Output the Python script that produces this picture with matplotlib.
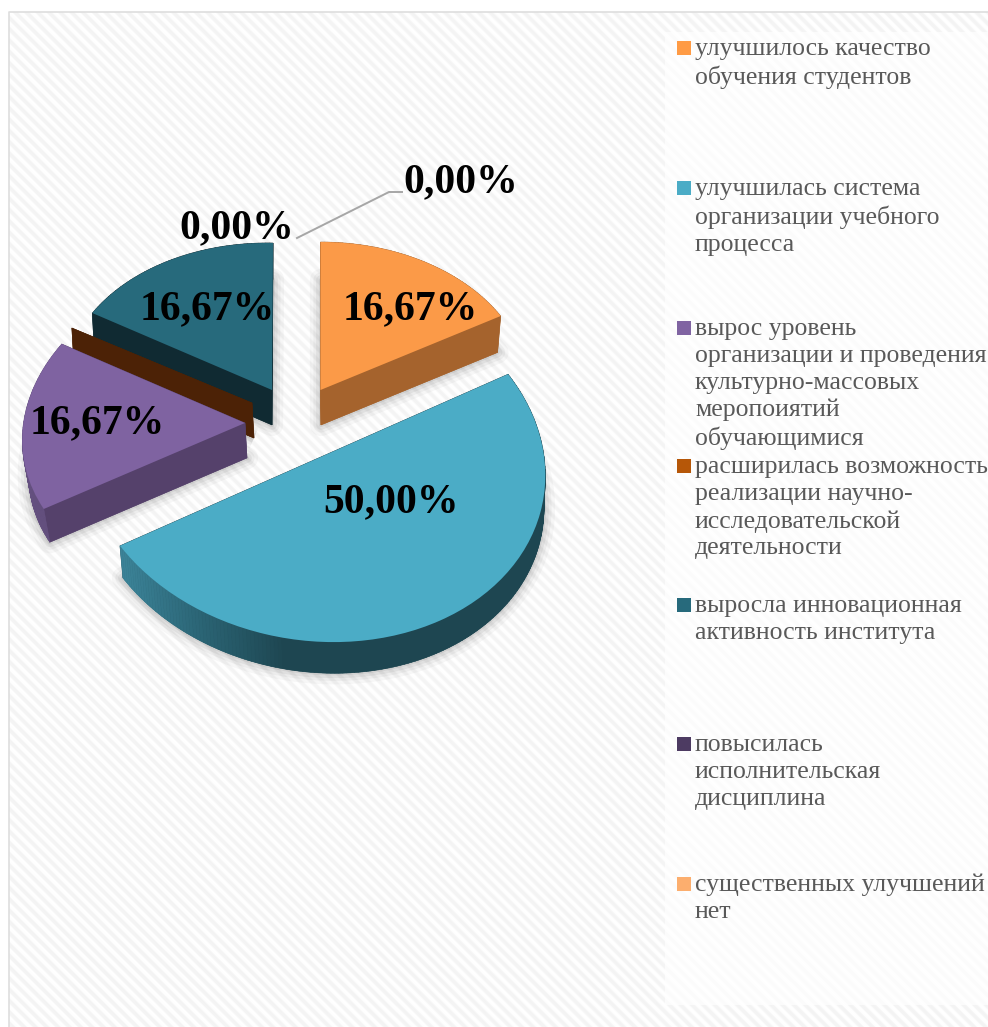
import numpy as np
import matplotlib
matplotlib.use("Agg")
import matplotlib.pyplot as plt
from matplotlib import patches as mp
from matplotlib.collections import PolyCollection
from matplotlib.colors import LinearSegmentedColormap
from matplotlib.transforms import Affine2D

# ---------- data ----------
categories = [
    "улучшилось качество\nобучения студентов",
    "улучшилась система\nорганизации учебного\nпроцесса",
    "вырос уровень\nорганизации и проведения\nкультурно-массовых\nмеропоиятий\nобучающимися",
    "расширилась возможность\nреализации научно-\nисследовательской\nдеятельности",
    "выросла инновационная\nактивность института",
    "повысилась\nисполнительская\nдисциплина",
    "существенных улучшений\nнет",
]
values = [16.67, 50.0, 16.67, 0.0, 16.67, 0.0, 0.0]

# ---------- style ----------
W, H = 988, 1027
top_colors = ["#FB9A48", "#4BACC6", "#7F63A1", "#4C2206", "#276A7C", "#4D3B62", "#F9AB6B"]
side_colors = ["#A5632D", "#1E4651", "#55416B", "#4C2206", "#102A32", "#33284A", "#A5632D"]
rim_colors = ["#A5632D", None, "#64507F", "#4C2206", "#102A32", "#33284A", "#A5632D"]
swatch_colors = ["#FF9B45", "#4BACC6", "#8064A2", "#B65708", "#276A7C", "#4D3B62", "#FCAE6E"]
# placement of each exploded slice: centre, image of east, image of north, depth, bottom scale
geometry = {
    0: dict(c=(320.5, 390), a=(208, 0), b=(0, -148), d=(0.5, 35), s=0.98),
    1: dict(c=(314, 460), a=(231, 6), b=(-12, -182), d=(1, 33), s=0.99),
    2: dict(c=(245, 423), a=(222, -4), b=(18, -165), d=(2, 35), s=0.98),
    3: dict(c=(252, 403), a=(208, 0), b=(0, -150), d=(2, 35), s=1.0),
    4: dict(c=(272, 390), a=(208, 4), b=(1, -147), d=(0, 35), s=0.99),
}
draw_order = [4, 3, 2, 0, 1]
label_pos = {0: (410, 309), 1: (391, 502), 2: (97, 423), 4: (207, 309), 3: (237, 228), 5: (461, 182)}
legend_y = [38, 178, 318, 456, 595, 734, 874]

serif = "Liberation Serif"

fig = plt.figure(figsize=(W / 100, H / 100), dpi=100, facecolor="white")
ax = fig.add_axes([0, 0, 1, 1])

# ---------- pie through the library ----------
wedges, _ = ax.pie(values, startangle=90, counterclock=False, radius=1, colors=top_colors)
ax.set_aspect("auto")
ax.set_xlim(0, W)
ax.set_ylim(H, 0)
ax.axis("off")

# ---------- backdrop ----------
yy, xx = np.mgrid[0:H, 0:W]
stripes = 0.5 + 0.5 * np.sin(2 * np.pi * (xx - yy) / 11.3)
bg = 1 - 0.045 * np.clip(stripes * 1.6 - 0.3, 0, 1)
bg[:12, :] = 1
bg[:, :9] = 1
ax.imshow(bg, cmap="gray", vmin=0, vmax=1, extent=(0, W, H, 0), zorder=0, aspect="auto",
          interpolation="bilinear")
ax.set_xlim(0, W)
ax.set_ylim(H, 0)
ax.add_patch(mp.Rectangle((665, 32), W - 665, 973, fc="white", ec="none", alpha=0.72, zorder=1))
ax.plot([8.5, 8.5, W], [H, 11.5, 11.5], color="#DEDEDE", lw=1.2, zorder=1, solid_capstyle="butt")


def matrix(g, bottom=False):
    s = g["s"] if bottom else 1.0
    dx, dy = g["d"] if bottom else (0, 0)
    (cx, cy), (ax_, ay), (bx, by) = g["c"], g["a"], g["b"]
    return np.array([[ax_ * s, bx * s, cx + dx], [ay * s, by * s, cy + dy], [0, 0, 1.0]])


def project(m, u, v):
    return m[0, 0] * u + m[0, 1] * v + m[0, 2], m[1, 0] * u + m[1, 1] * v + m[1, 2]


blue_rim = LinearSegmentedColormap.from_list("rim", ["#3B8297", "#2A6373", "#1E4651"])
z = 3
for i in draw_order:
    wedge, g = wedges[i], geometry[i]
    top, bot = matrix(g), matrix(g, True)
    t1, t2 = wedge.theta1, wedge.theta2
    tb = Affine2D(bot) + ax.transData
    for lw, al in zip((16, 11, 7, 3), (0.03, 0.04, 0.05, 0.06)):
        ax.add_patch(mp.Wedge((0, 0), 1, t1, t2, transform=tb, fc="none", ec="black", lw=lw,
                              alpha=al, zorder=z, joinstyle="round"))
    z += 1
    ax.add_patch(mp.Wedge((0, 0), 1, t1, t2, transform=tb, fc=side_colors[i], ec="none", zorder=z))
    z += 1
    # radial side faces
    for th in (t1, t2):
        u, v = np.cos(np.radians(th)), np.sin(np.radians(th))
        quad = [project(top, 0, 0), project(top, u, v), project(bot, u, v), project(bot, 0, 0)]
        ax.add_patch(mp.Polygon(quad, closed=True, fc=side_colors[i], ec=side_colors[i], lw=0.4, zorder=z))
    z += 1
    # outer rim
    if t2 > t1:
        th = np.radians(np.arange(t1, t2 + 0.5, 1.0))
        quads, cols = [], []
        for p, q in zip(th[:-1], th[1:]):
            pts = [project(top, np.cos(p), np.sin(p)), project(top, np.cos(q), np.sin(q)),
                   project(bot, np.cos(q), np.sin(q)), project(bot, np.cos(p), np.sin(p))]
            quads.append(pts)
            if rim_colors[i] is None:
                cols.append(blue_rim(np.clip((pts[0][0] - 123) / 160, 0, 1)))
            else:
                cols.append(rim_colors[i])
        ax.add_collection(PolyCollection(quads, facecolors=cols, edgecolors=cols, linewidths=0.4, zorder=z))
    z += 1
    # top face is the pie's own wedge
    wedge.set_transform(Affine2D(top) + ax.transData)
    wedge.set_zorder(z)
    wedge.set_edgecolor("none")
    z += 1

for i in (5, 6):
    wedges[i].set_visible(False)

# ---------- labels ----------
ax.plot([297, 389, 402], [238, 192, 192], color="#A6A6A6", lw=1.4, zorder=z)
for key, (x, y) in label_pos.items():
    ax.text(x, y, f"{values[key]:.2f}%".replace(".", ","), ha="center", va="center",
            family=serif, weight="bold", fontsize=30, color="black", zorder=z + 1)

# ---------- legend ----------
for name, col, y in zip(categories, swatch_colors, legend_y):
    ax.add_patch(mp.Rectangle((677, y + 3), 14, 14, fc=col, ec="none", zorder=z))
    ax.text(695, y, name, ha="left", va="top", family=serif, fontsize=18.5, color="#595959",
            linespacing=1.29, zorder=z, clip_on=True)

fig.savefig("out.png", dpi=100)
